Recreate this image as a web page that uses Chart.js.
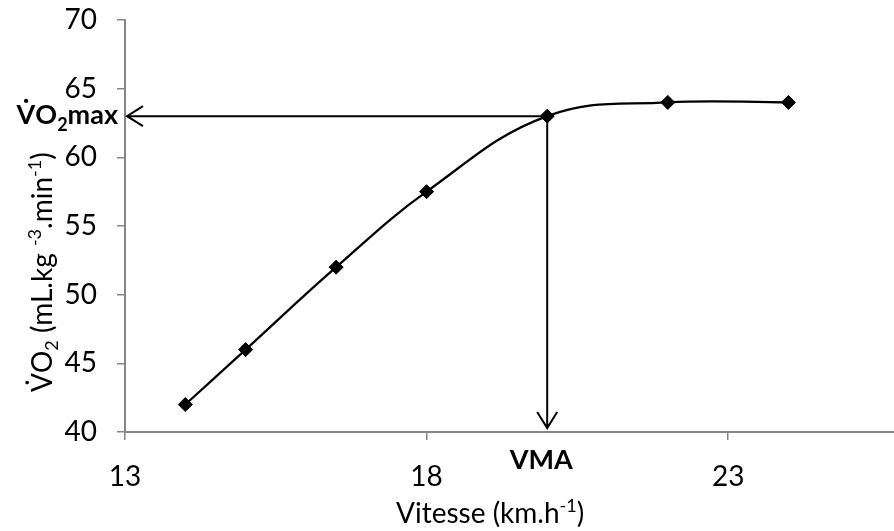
<!DOCTYPE html>
<html>
<head>
<meta charset="utf-8">
<script src="https://cdn.jsdelivr.net/npm/chart.js@4"></script>
<style>
  html, body { margin: 0; padding: 0; background: #fff; }
</style>
</head>
<body>
<canvas id="vo2Chart" width="894" height="531"></canvas>
<script>
const speeds = [14, 15, 16.5, 18, 20, 22, 24];
const vo2 = [42, 46, 52, 57.5, 63, 64, 64];
const xTicks = [13, 18, 23];
const yTicks = [40, 45, 50, 55, 60, 65, 70];
const vmaSpeed = 20;
const vo2maxValue = 63;

const FONT = 'Lato, "Open Sans", sans-serif';
const AXIS_GREY = '#868686';

// draw text made of pieces (sub/superscripts), starting at x, on baseline y
function drawRich(ctx, segs, x, y) {
    let cx = x;
    segs.forEach(s => {
        ctx.font = s.font;
        ctx.fillText(s.t, cx, y + (s.dy || 0));
        cx += ctx.measureText(s.t).width;
    });
    return cx - x;
}
function richWidth(ctx, segs) {
    let w = 0;
    segs.forEach(s => { ctx.font = s.font; w += ctx.measureText(s.t).width; });
    return w;
}

const norm = '28px ' + FONT;
const sup = '18px ' + FONT;

const arrowPlugin = {
    id: 'vmaArrows',
    afterDatasetsDraw(chart) {
        const { ctx, scales: { x, y } } = chart;
        const px = x.getPixelForValue(vmaSpeed);
        const py = y.getPixelForValue(vo2maxValue);
        const x0 = x.left + 2;
        const y0 = y.bottom - 4;

        ctx.save();
        ctx.strokeStyle = '#000';
        ctx.lineWidth = 2;
        ctx.beginPath();
        ctx.moveTo(px, py);
        ctx.lineTo(x0, py);
        ctx.moveTo(x0 + 16, py - 10);
        ctx.lineTo(x0, py);
        ctx.lineTo(x0 + 16, py + 10);
        ctx.moveTo(px, py);
        ctx.lineTo(px, y0);
        ctx.moveTo(px - 10, y0 - 16);
        ctx.lineTo(px, y0);
        ctx.lineTo(px + 10, y0 - 16);
        ctx.stroke();

        ctx.fillStyle = '#000';
        ctx.textBaseline = 'alphabetic';
        ctx.textAlign = 'left';

        // VO2max label
        const lab = [
            { t: 'V\u0307O', font: 'bold 27px ' + FONT },
            { t: '2', font: 'bold 18px ' + FONT, dy: 7 },
            { t: 'max', font: 'bold 27px ' + FONT }
        ];
        drawRich(ctx, lab, x.left - 7 - richWidth(ctx, lab), py + 8);

        // VMA label
        ctx.font = 'bold 27px ' + FONT;
        ctx.textAlign = 'center';
        ctx.fillText('VMA', px - 6, y.bottom + 37);
        ctx.textAlign = 'left';

        // x title
        drawRich(ctx, [
            { t: 'Vitesse (km.h', font: norm },
            { t: '-1', font: sup, dy: -11 },
            { t: ')', font: norm }
        ], 396, 523);

        // y title (rotated)
        ctx.translate(52, 392);
        ctx.rotate(-Math.PI / 2);
        drawRich(ctx, [
            { t: 'V\u0307O', font: norm },
            { t: '2', font: sup, dy: 6 },
            { t: ' (mL.kg ', font: norm },
            { t: '-3', font: sup, dy: -11 },
            { t: '.min', font: norm },
            { t: '-1', font: sup, dy: -11 },
            { t: ')', font: norm }
        ], 0, 0);
        ctx.restore();
    }
};

new Chart(document.getElementById('vo2Chart').getContext('2d'), {
    type: 'line',
    data: {
        datasets: [{
            data: speeds.map((s, i) => ({ x: s, y: vo2[i] })),
            borderColor: '#000',
            backgroundColor: '#000',
            borderWidth: 2.25,
            tension: 0.4,
            pointStyle: 'rectRot',
            pointRadius: 7,
            pointHoverRadius: 7,
            pointBorderWidth: 1,
            fill: false
        }]
    },
    options: {
        responsive: false,
        animation: false,
        layout: { autoPadding: false, padding: { top: 20, right: 0, left: 0, bottom: 0 } },
        plugins: {
            legend: { display: false },
            tooltip: { enabled: false }
        },
        scales: {
            x: {
                type: 'linear',
                min: 13,
                max: 25.75,
                afterBuildTicks: s => { s.ticks = xTicks.map(v => ({ value: v })); },
                afterFit: s => { s.height = 99; s.paddingLeft = 0; s.paddingRight = 0; },
                grid: { drawOnChartArea: false, tickLength: 8, color: AXIS_GREY, lineWidth: 1.5 },
                border: { color: AXIS_GREY, width: 2 },
                ticks: { color: '#000', font: { family: FONT, size: 28 }, padding: 20, maxRotation: 0 }
            },
            y: {
                min: 40,
                max: 70,
                afterBuildTicks: s => { s.ticks = yTicks.map(v => ({ value: v })); },
                afterFit: s => { s.width = 125; s.paddingTop = 0; s.paddingBottom = 0; },
                grid: { drawOnChartArea: false, tickLength: 8, color: AXIS_GREY, lineWidth: 1.5 },
                border: { color: AXIS_GREY, width: 2 },
                ticks: { color: '#000', font: { family: FONT, size: 28 }, padding: 20 }
            }
        }
    },
    plugins: [arrowPlugin]
});
</script>
</body>
</html>
